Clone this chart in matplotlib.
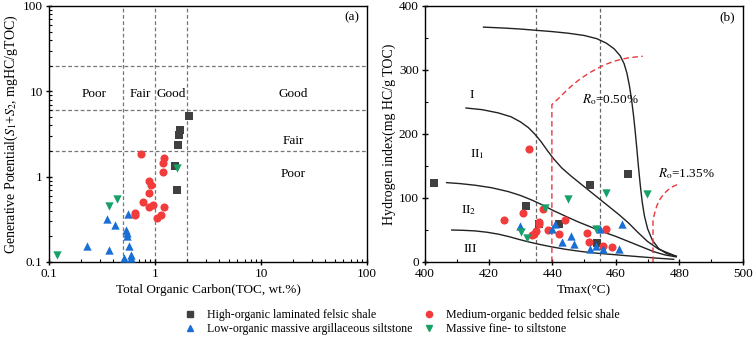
import numpy as np
import matplotlib
matplotlib.use("Agg")
import matplotlib.pyplot as plt
from matplotlib.ticker import LogLocator, NullFormatter, MultipleLocator

plt.rcParams['font.family'] = ['Liberation Serif', 'DejaVu Serif']
plt.rcParams['mathtext.fontset'] = 'stix'

# ---------------- Panel (a) data: TOC (wt.%) vs S1+S2 ----------------
a_high_toc = [2.09, 1.73, 1.68, 1.66, 1.53, 1.61]
a_high_gp = [5.1, 3.5, 3.1, 2.35, 1.32, 0.69]
a_med_toc = [0.74, 1.21, 1.20, 1.19, 0.88, 0.91, 0.88, 0.77, 0.95, 0.87, 1.22, 0.65, 0.65, 1.15, 1.04]
a_med_gp = [1.86, 1.66, 1.43, 1.13, 0.89, 0.79, 0.65, 0.51, 0.47, 0.44, 0.44, 0.38, 0.36, 0.36, 0.33]
a_low_toc = [0.56, 0.35, 0.42, 0.53, 0.54, 0.55, 0.57, 0.37, 0.23, 0.51, 0.59, 0.60]
a_low_gp = [0.37, 0.32, 0.27, 0.24, 0.22, 0.20, 0.155, 0.14, 0.155, 0.11, 0.12, 0.11]
a_mass_toc = [0.44, 0.37, 1.62, 0.118]
a_mass_gp = [0.55, 0.45, 1.25, 0.12]

# ---------------- Panel (b) data: Tmax vs HI ----------------
b_high_t = [402.9, 431.9, 436.0, 442.0, 451.8, 463.9, 454.0]
b_high_hi = [123, 87, 59, 59, 120, 137, 29]
b_med_t = [424.9, 432.8, 430.8, 437.0, 435.8, 435.8, 434.9, 434.3, 433.6, 438.8, 442.0,
           443.9, 450.9, 451.7, 457.0, 455.9, 458.9]
b_med_hi = [65, 176, 77, 83, 62, 59, 49, 44.5, 42, 50, 44.5, 65, 46, 31, 51, 25, 23.5]
b_low_t = [429.8, 441.0, 440.0, 446.0, 443.0, 446.8, 455.0, 453.8, 451.9, 455.9, 460.9, 461.9]
b_low_hi = [56.5, 60, 52, 41, 32, 28, 52, 25, 21, 20, 21, 59]
b_mass_t = [430.1, 432.0, 437.8, 444.9, 453.9, 457.0, 469.8]
b_mass_hi = [47, 38, 84, 98, 51, 108, 106]

# Kerogen type boundary curves
curve1_t = [418.4, 425.0, 430.0, 435.0, 440.0, 445.0, 450.0, 454.0, 457.0, 459.5, 461.4,
            462.6, 463.5, 464.3, 465.0, 465.6, 466.1, 466.6, 467.1, 467.7, 468.3, 469.0,
            470.0, 471.5, 473.5, 476.0, 479.0]
curve1_hi = [367, 365.5, 364, 362, 360, 357.5, 354, 349, 342, 333, 322,
             310, 295, 275, 252, 228, 204, 178, 150, 120, 94, 72,
             52, 34, 21, 13, 9]
curve2_t = [412.9, 418.0, 423.0, 427.0, 430.0, 432.5, 434.5, 436.5, 438.5, 440.5, 443.0,
            446.0, 449.0, 452.0, 455.0, 458.0, 461.0, 464.0, 467.0, 470.0, 473.5, 479.0]
curve2_hi = [240.6, 238, 233, 227, 219, 210, 200, 188, 174, 161, 147,
             134, 122, 110, 98, 86, 74, 61, 46, 32, 20, 9]
curve3_t = [406.8, 411.0, 415.7, 421.0, 426.2, 430.0, 433.5, 437.0, 440.5, 444.0, 448.0,
            452.0, 456.0, 460.0, 464.0, 468.0, 472.0, 475.5, 479.0]
curve3_hi = [124, 122.5, 120, 116, 110, 104, 97, 89, 80, 72, 63,
             55, 47, 40, 32, 24, 16, 11, 8]
curve4_t = [408.4, 412.0, 415.7, 419.5, 423.1, 426.5, 429.4, 432.5, 436.0, 440.0, 444.0,
            449.0, 454.0, 459.3, 464.0, 468.0, 473.0, 478.2]
curve4_hi = [50, 49.5, 48.6, 46.5, 43.5, 39.5, 35.5, 31.5, 27.5, 23.5, 20,
             16.5, 13.8, 11.6, 9.6, 8, 6, 4.2]

# Vitrinite reflectance lines
ro050_t = [439.9, 439.9, 441.0, 442.5, 444.5, 446.5, 448.8, 451.5, 454.0, 456.5,
           459.0, 461.5, 464.0, 466.5, 468.5]
ro050_hi = [0, 246, 251, 258, 268, 277, 286, 295, 302, 308,
            313, 316.5, 319, 320.5, 321.5]
ro135_t = [471.7, 471.7, 472.2, 472.9, 474.0, 475.2, 476.5, 478.0, 479.8]
ro135_hi = [0, 65, 76, 88, 99, 107, 113, 118, 122]

c_high = '#404040'
c_med = '#f23c3c'
c_low = '#1a6fd4'
c_mass = '#17a067'

fig = plt.figure(figsize=(7.54, 3.40), dpi=100)
axa = fig.add_axes([49/754, 1-262/340, 318/754, 256/340])
axb = fig.add_axes([425/754, 1-262/340, 318/754, 256/340])

ms = 26
for ax in (axa, axb):
    for sp in ax.spines.values():
        sp.set_linewidth(1.0)
    ax.tick_params(which='major', direction='inout', length=5, width=1, labelsize=9.5, pad=2)
    ax.tick_params(which='minor', direction='in', length=2.5, width=0.8)

# ---- Panel a ----
axa.set_xscale('log')
axa.set_yscale('log')
axa.set_xlim(0.1, 100)
axa.set_ylim(0.1, 100)
for xv in [0.5, 1, 2]:
    axa.axvline(xv, color='#777777', ls=(0, (3, 2)), lw=0.9, zorder=1)
for yv in [2, 6, 20]:
    axa.axhline(yv, color='#777777', ls=(0, (3, 2)), lw=0.9, zorder=1)
axa.scatter(a_high_toc, a_high_gp, marker='s', s=ms, color=c_high, zorder=3, linewidths=0)
axa.scatter(a_med_toc, a_med_gp, marker='o', s=ms + 8, color=c_med, zorder=3, linewidths=0)
axa.scatter(a_low_toc, a_low_gp, marker='^', s=ms + 10, color=c_low, zorder=3, linewidths=0)
axa.scatter(a_mass_toc, a_mass_gp, marker='v', s=ms + 10, color=c_mass, zorder=3, linewidths=0)
axa.set_xticks([0.1, 1, 10, 100])
axa.set_xticklabels(['0.1', '1', '10', '100'])
axa.set_yticks([0.1, 1, 10, 100])
axa.set_yticklabels(['0.1', '1', '10', '100'])
axa.xaxis.set_minor_locator(LogLocator(base=10, subs=np.arange(2, 10)))
axa.yaxis.set_minor_locator(LogLocator(base=10, subs=np.arange(2, 10)))
axa.xaxis.set_minor_formatter(NullFormatter())
axa.yaxis.set_minor_formatter(NullFormatter())
tfs = 9.5
axa.text(0.265, 9.3, 'Poor', ha='center', va='center', fontsize=tfs)
axa.text(0.73, 9.3, 'Fair', ha='center', va='center', fontsize=tfs)
axa.text(1.42, 9.3, 'Good', ha='center', va='center', fontsize=tfs)
axa.text(20, 9.3, 'Good', ha='center', va='center', fontsize=tfs)
axa.text(20, 2.6, 'Fair', ha='center', va='center', fontsize=tfs)
axa.text(20, 1.07, 'Poor', ha='center', va='center', fontsize=tfs)
axa.text(0.975, 0.955, '(a)', transform=axa.transAxes, ha='right', va='center', fontsize=9.5)
axa.set_xlabel('Total Organic Carbon(TOC, wt.%)', fontsize=9.5, labelpad=3)
axa.set_ylabel(r'Generative Potential($S_1$+$S_2$, mgHC/gTOC)', fontsize=10, labelpad=2)

# ---- Panel b ----
axb.set_xlim(400, 500)
axb.set_ylim(0, 400)
axb.xaxis.set_major_locator(MultipleLocator(20))
axb.xaxis.set_minor_locator(MultipleLocator(10))
axb.yaxis.set_major_locator(MultipleLocator(100))
axb.yaxis.set_minor_locator(MultipleLocator(50))
for xv in [435, 455]:
    axb.axvline(xv, color='#666666', ls=(0, (3, 2)), lw=0.9, zorder=1)
for ct, ch in [(curve1_t, curve1_hi), (curve2_t, curve2_hi), (curve3_t, curve3_hi), (curve4_t, curve4_hi)]:
    axb.plot(ct, ch, color='#222222', lw=1.0, zorder=2, solid_joinstyle='round')
axb.plot(ro050_t, ro050_hi, color='#e8393c', ls=(0, (4, 2.5)), lw=1.0, zorder=2)
axb.plot(ro135_t, ro135_hi, color='#e8393c', ls=(0, (4, 2.5)), lw=1.0, zorder=2)
axb.scatter(b_high_t, b_high_hi, marker='s', s=ms, color=c_high, zorder=3, linewidths=0)
axb.scatter(b_med_t, b_med_hi, marker='o', s=ms + 8, color=c_med, zorder=3, linewidths=0)
axb.scatter(b_low_t, b_low_hi, marker='^', s=ms + 10, color=c_low, zorder=3, linewidths=0)
axb.scatter(b_mass_t, b_mass_hi, marker='v', s=ms + 10, color=c_mass, zorder=3, linewidths=0)
axb.text(414.7, 261, 'I', ha='center', va='center', fontsize=tfs)
axb.text(416.5, 169, r'II$_1$', ha='center', va='center', fontsize=tfs)
axb.text(413.6, 81, r'II$_2$', ha='center', va='center', fontsize=tfs)
axb.text(414.2, 21, 'III', ha='center', va='center', fontsize=tfs)
axb.text(449.5, 254, r'$R_{\rm o}$=0.50%', ha='left', va='center', fontsize=tfs)
axb.text(473.3, 138, r'$R_{\rm o}$=1.35%', ha='left', va='center', fontsize=tfs)
axb.text(0.975, 0.955, '(b)', transform=axb.transAxes, ha='right', va='center', fontsize=9.5)
axb.set_xlabel('Tmax(°C)', fontsize=9.5, labelpad=3)
axb.set_ylabel('Hydrogen index(mg HC/g TOC)', fontsize=10, labelpad=2)

# ---- Legend ----
h1 = plt.Line2D([], [], ls='', marker='s', color=c_high, markersize=4)
h2 = plt.Line2D([], [], ls='', marker='^', color=c_low, markersize=4.5)
h3 = plt.Line2D([], [], ls='', marker='o', color=c_med, markersize=4.5)
h4 = plt.Line2D([], [], ls='', marker='v', color=c_mass, markersize=4.5)
fig.legend([h1, h2, h3, h4],
           ['High-organic laminated felsic shale', 'Low-organic massive argillaceous siltstone',
            'Medium-organic bedded felsic shale', 'Massive fine- to siltstone'],
           ncol=2, loc='center', bbox_to_anchor=(0.533, 0.052), frameon=False,
           fontsize=8.6, handlelength=1.0, handletextpad=0.9, columnspacing=0.9,
           labelspacing=0.15, borderpad=0.1)

fig.savefig('out.png', dpi=100)
